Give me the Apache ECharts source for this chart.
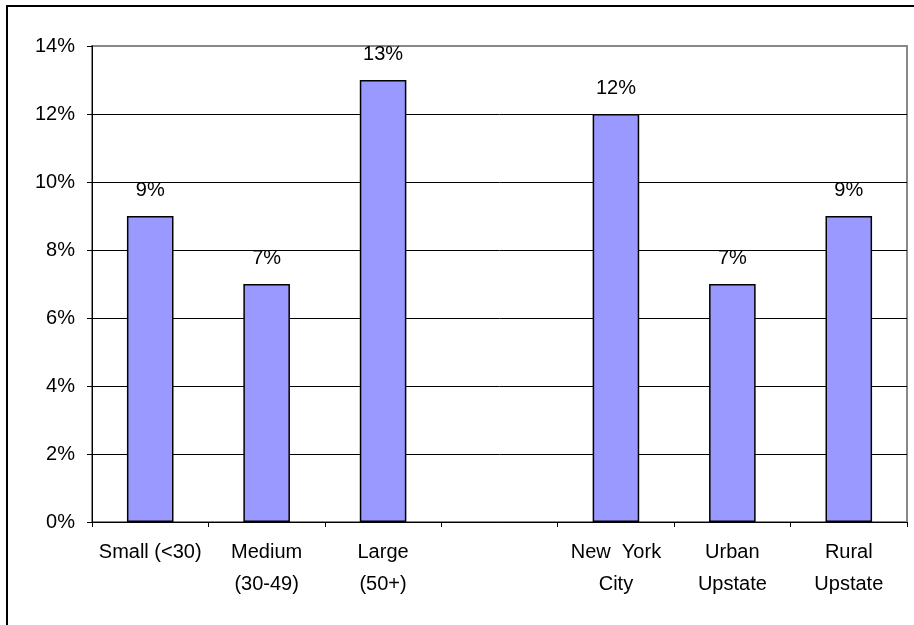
<!DOCTYPE html>
<html>
<head>
<meta charset="utf-8">
<script src="https://cdn.jsdelivr.net/npm/echarts@6/dist/echarts.min.js"></script>
<style>
html,body{margin:0;padding:0;background:#fff;}
#chart{width:914px;height:625px;}
</style>
</head>
<body>
<div id="chart"></div>
<script>
var categories = ['Small (<30)', 'Medium\n(30-49)', 'Large\n(50+)', '', 'New  York\nCity', 'Urban\nUpstate', 'Rural\nUpstate'];
var values = [9, 7, 13, null, 12, 7, 9];
var yTicks = [0, 2, 4, 6, 8, 10, 12, 14];

var chart = echarts.init(document.getElementById('chart'), null, {renderer: 'canvas'});
var font = 'Liberation Sans, Arial, sans-serif';
chart.setOption({
  animation: false,
  backgroundColor: '#fff',
  graphic: [{
    type: 'rect',
    shape: {x: 7, y: 6, width: 1000, height: 1000},
    style: {fill: 'none', stroke: '#000', lineWidth: 2},
    z: 100
  }],
  grid: {
    left: 92, top: 46, right: 7, bottom: 103,
    show: true, borderColor: '#888', borderWidth: 2, backgroundColor: '#fff'
  },
  xAxis: {
    type: 'category',
    data: categories,
    boundaryGap: true,
    axisLine: {lineStyle: {color: '#000', width: 1}},
    axisTick: {show: true, length: 5, lineStyle: {color: '#000'}},
    axisLabel: {
      interval: 0, color: '#000', fontFamily: font, fontSize: 20,
      lineHeight: 32, margin: 14
    }
  },
  yAxis: {
    type: 'value',
    min: yTicks[0], max: yTicks[yTicks.length - 1], interval: 2,
    axisLine: {show: true, lineStyle: {color: '#000', width: 1}},
    axisTick: {show: true, length: 5, lineStyle: {color: '#000'}},
    axisLabel: {
      color: '#000', fontFamily: font, fontSize: 20, margin: 17,
      formatter: function (v) { return v + '%'; }
    },
    splitLine: {show: true, lineStyle: {color: ['#000','#000','#000','#000','#000','#000','#000','#888'], width: 1}}
  },
  series: [{
    type: 'bar',
    data: values,
    barWidth: '40%',
    itemStyle: {color: '#9999FF', borderColor: '#000', borderWidth: 1.5},
    label: {
      show: true, position: 'top', distance: 16,
      color: '#000', fontFamily: font, fontSize: 20,
      formatter: function (p) { return p.value + '%'; }
    }
  }]
});
</script>
</body>
</html>
